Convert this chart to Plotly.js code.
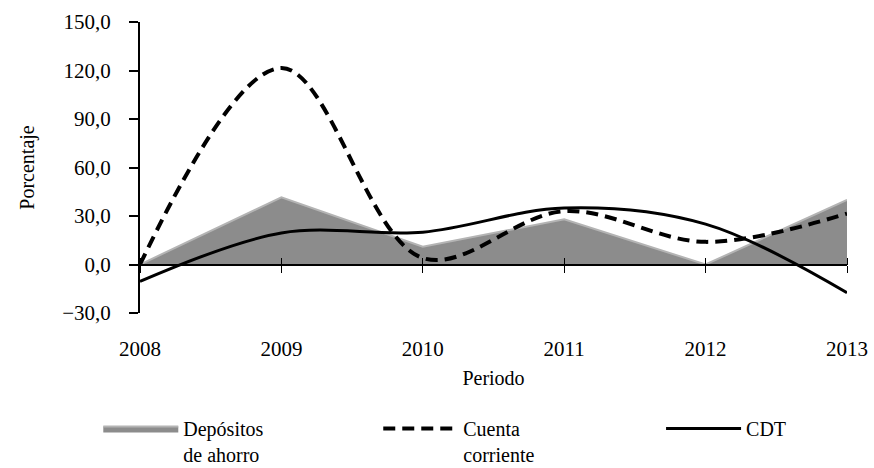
<!DOCTYPE html>
<html>
<head>
<meta charset="utf-8">
<script src="https://cdn.plot.ly/plotly-3.0.1.min.js"></script>
<style>
  html, body { margin: 0; padding: 0; background: #fff; }
  #chart { width: 874px; height: 468px; }
  /* wider legend symbols, like the original */
  #chart .legendpoints path { transform: scaleX(2.27); vector-effect: non-scaling-stroke; }
</style>
</head>
<body>
<div id="chart"></div>
<script>
"use strict"

var years = [2008, 2009, 2010, 2011, 2012, 2013];
var depositos = [0, 41.5, 11, 28, 0, 40];
var cuenta = [0, 121.5, 4, 33, 14, 31.5];
var cdt = [-10.5, 19.5, 20, 35, 25, -17.5];
var yTicks = [-30, 0, 30, 60, 90, 120, 150];

var fontFam = 'Liberation Serif, Times New Roman, serif';

var depTrace = {
	x: years,
	y: depositos,
	name: 'Depósitos<br>de ahorro',
	type: 'scatter',
	mode: 'lines',
	fill: 'tozeroy',
	fillcolor: '#8c8c8c',
	line: {color: '#b4b4b4', width: 2},
	legend: 'legend'
};

var cuentaTrace = {
	x: years,
	y: cuenta,
	name: 'Cuenta<br>corriente',
	type: 'scatter',
	mode: 'lines',
	line: {color: '#000', width: 4, dash: '12px,7px', shape: 'spline', smoothing: 1},
	legend: 'legend2'
};

var cdtTrace = {
	x: years,
	y: cdt,
	name: 'CDT',
	type: 'scatter',
	mode: 'lines',
	line: {color: '#000', width: 3, shape: 'spline', smoothing: 1},
	legend: 'legend3'
};

var zeroPos = 30 / 180;

function legendAt(x){
	return {
		orientation: 'h',
		x: x,
		xanchor: 'left',
		y: -0.33,
		yanchor: 'top',
		itemwidth: 75,
		font: {family: fontFam, size: 20, color: '#000'},
		valign: 'top',
		bgcolor: 'rgba(0,0,0,0)'
	};
}

var layout = {
	width: 874,
	height: 468,
	margin: {l: 140, r: 27, t: 22, b: 155, autoexpand: false},
	paper_bgcolor: '#fff',
	plot_bgcolor: '#fff',
	separators: ',.',
	font: {family: fontFam, size: 20, color: '#000'},
	showlegend: true,
	legend: legendAt(-0.059),
	legend2: legendAt(0.337),
	legend3: legendAt(0.737),
	xaxis: {
		range: [2008, 2013],
		anchor: 'free',
		position: zeroPos,
		showline: true,
		linecolor: '#000',
		linewidth: 2,
		ticks: 'outside',
		ticklen: 7,
		tickcolor: '#000',
		tickwidth: 1,
		tickvals: years,
		showticklabels: false,
		showgrid: false,
		zeroline: false
	},
	xaxis2: {
		range: [2008, 2013],
		overlaying: 'x',
		anchor: 'free',
		position: zeroPos,
		side: 'top',
		showline: false,
		ticks: 'outside',
		ticklen: 7,
		tickcolor: '#000',
		tickwidth: 1,
		tickvals: years,
		showticklabels: false,
		showgrid: false,
		zeroline: false
	},
	xaxis3: {
		range: [2008, 2013],
		overlaying: 'x',
		anchor: 'y',
		side: 'bottom',
		showline: false,
		ticks: '',
		tickvals: years,
		ticktext: years.map(String),
		tickfont: {size: 21},
		ticklabelstandoff: 21,
		showgrid: false,
		zeroline: false,
		title: {text: 'Periodo', font: {family: fontFam, size: 20}, standoff: 10}
	},
	yaxis: {
		range: [-30, 150],
		tickvals: yTicks,
		tickformat: '.1f',
		tickfont: {size: 21},
		showline: true,
		linecolor: '#000',
		linewidth: 2,
		ticks: 'outside',
		ticklen: 9,
		tickcolor: '#000',
		tickwidth: 2,
		showgrid: false,
		zeroline: false,
		ticklabelstandoff: 14,
		title: {text: 'Porcentaje', font: {family: fontFam, size: 20}, standoff: 22}
	}
};

// dummy traces so the overlay axes get drawn
var axTrace2 = {x: [2008], y: [null], xaxis: 'x2', yaxis: 'y', showlegend: false, hoverinfo: 'skip', mode: 'lines'};
var axTrace3 = {x: [2008], y: [null], xaxis: 'x3', yaxis: 'y', showlegend: false, hoverinfo: 'skip', mode: 'lines'};

Plotly.newPlot('chart', [depTrace, cuentaTrace, cdtTrace, axTrace2, axTrace3], layout, {staticPlot: true});
</script>
</body>
</html>
